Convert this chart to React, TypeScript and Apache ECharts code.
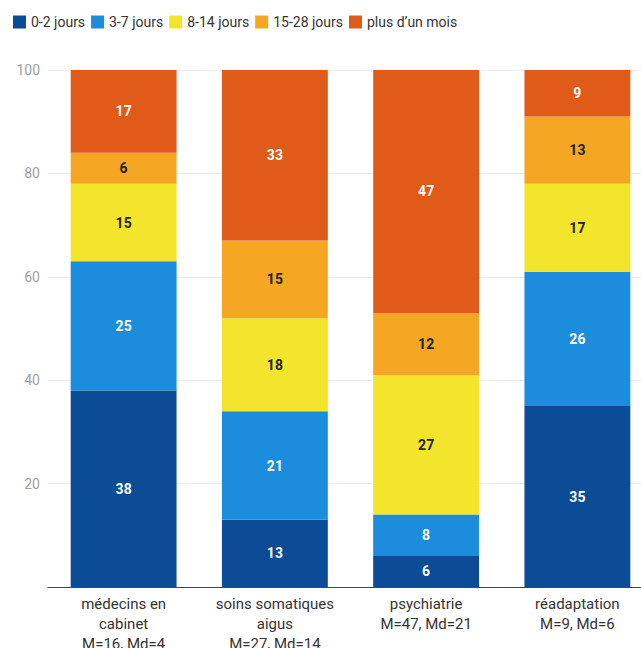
import React, { useEffect, useRef } from "react";
import * as echarts from "echarts";

const categories = [
  "médecins en\ncabinet\nM=16, Md=4",
  "soins somatiques\naigus\nM=27, Md=14",
  "psychiatrie\nM=47, Md=21",
  "réadaptation\nM=9, Md=6",
];
const seriesNames = ["0-2 jours", "3-7 jours", "8-14 jours", "15-28 jours", "plus d’un mois"];
const d02 = [38, 13, 6, 35];
const d37 = [25, 21, 8, 26];
const d814 = [15, 18, 27, 17];
const d1528 = [6, 15, 12, 13];
const dMois = [17, 33, 47, 9];
const yTicks = [0, 20, 40, 60, 80, 100];

const colors = ["#0c4b95", "#1c8ddd", "#f3e42c", "#f5a623", "#e05a19"];
const labelColors = ["#ffffff", "#ffffff", "#222222", "#222222", "#ffffff"];

export default function App() {
  const ref = useRef<HTMLDivElement>(null);
  useEffect(() => {
    if (!ref.current) return;
    const chart = echarts.init(ref.current, null, { renderer: "svg" });
    const font = "Roboto, 'Open Sans', sans-serif";
    const data = [d02, d37, d814, d1528, dMois];
    chart.setOption({
      animation: false,
      textStyle: { fontFamily: font },
      legend: {
        left: 8,
        top: 10,
        itemWidth: 13,
        itemHeight: 13,
        itemGap: 6,
        icon: "rect",
        textStyle: { fontSize: 14, color: "#333", fontFamily: font },
        data: seriesNames,
      },
      grid: { left: 48, top: 70, right: -12, bottom: 61, containLabel: false, outerBoundsMode: "none" },
      xAxis: {
        type: "category",
        data: categories,
        axisLine: { show: true, lineStyle: { color: "#444", width: 1.2 } },
        axisTick: { show: false },
        axisLabel: { fontSize: 15, color: "#333", lineHeight: 20, margin: 7, interval: 0, fontFamily: font },
      },
      yAxis: {
        type: "value",
        min: yTicks[0],
        max: yTicks[yTicks.length - 1],
        interval: 20,
        axisLine: { show: false },
        axisTick: { show: false },
        splitLine: { show: true, lineStyle: { color: "#ececec", width: 1 } },
        axisLabel: {
          fontSize: 14,
          color: "#a0a0a0",
          margin: 8,
          showMinLabel: false,
          fontFamily: font,
        },
      },
      series: seriesNames.map((name, i) => ({
        name,
        type: "bar",
        stack: "total",
        barWidth: "70%",
        data: data[i],
        itemStyle: { color: colors[i] },
        label: {
          show: true,
          position: "inside",
          color: labelColors[i],
          fontWeight: "bold",
          fontSize: 14,
          fontFamily: font,
        },
      })),
    });
    return () => chart.dispose();
  }, []);
  return (
    <div
      ref={ref}
      style={{ position: "fixed", left: 0, top: 0, width: 641, height: 648, background: "#fff" }}
    />
  );
}
